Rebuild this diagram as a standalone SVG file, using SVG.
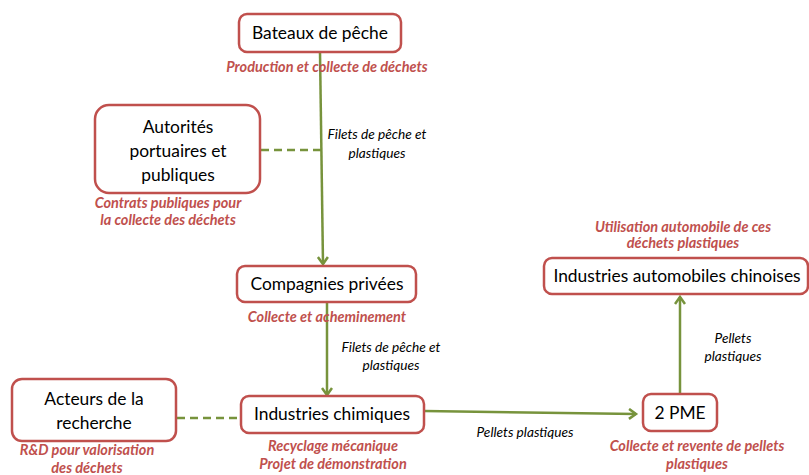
<svg xmlns="http://www.w3.org/2000/svg" width="809" height="475" viewBox="0 0 809 475">
<defs>
<marker id="arr" markerWidth="12" markerHeight="12" refX="9" refY="6" orient="auto" markerUnits="userSpaceOnUse">
<path d="M2,1 L9,6 L2,11" fill="none" stroke="#77933C" stroke-width="2.5"/>
</marker>
<style>
.box{fill:#fff;stroke:#C0504D;stroke-width:2.5}
.t{font-family:Lato,"Liberation Sans",sans-serif;font-size:17.4px;fill:#000;text-anchor:middle}
.r{font-family:Lato,"Liberation Sans",sans-serif;font-size:14.5px;font-weight:bold;font-style:italic;fill:#C0504D;text-anchor:middle}
.e{font-family:Lato,"Liberation Sans",sans-serif;font-size:13.7px;font-style:italic;fill:#000;text-anchor:middle}
.ln{fill:none;stroke:#77933C;stroke-width:2.5}
.d{fill:none;stroke:#77933C;stroke-width:2.5;stroke-dasharray:8,5}
</style>
</defs>
<rect width="809" height="475" fill="#fff"/>
<g id="connectors">
<line class="ln" x1="320" y1="52" x2="323" y2="264" marker-end="url(#arr)"/>
<line class="d" x1="261" y1="150" x2="321" y2="150"/>
<line class="ln" x1="327" y1="302" x2="327" y2="395" marker-end="url(#arr)"/>
<line class="d" x1="177" y1="418" x2="241" y2="418"/>
<line class="ln" x1="424" y1="411" x2="636" y2="414" marker-end="url(#arr)"/>
<line class="ln" x1="680" y1="394" x2="680" y2="297" marker-end="url(#arr)"/>
<text class="e" x="377" y="139">Filets de pêche et</text>
<text class="e" x="377" y="158">plastiques</text>
<text class="e" x="391" y="352">Filets de pêche et</text>
<text class="e" x="391" y="370">plastiques</text>
<text class="e" x="525" y="437">Pellets plastiques</text>
<text class="e" x="733" y="343">Pellets</text>
<text class="e" x="733" y="361">plastiques</text>
</g>
<g id="bateaux">
<rect class="box" x="239" y="14" width="162" height="38" rx="8"/>
<text class="t" x="320" y="39">Bateaux de pêche</text>
<text class="r" x="327" y="72">Production et collecte de déchets</text>
</g>
<g id="autorites">
<rect class="box" x="95" y="105" width="165" height="88" rx="14"/>
<text class="t" x="178" y="133">Autorités</text>
<text class="t" x="178" y="157">portuaires et</text>
<text class="t" x="178" y="181">publiques</text>
<text class="r" x="168" y="208">Contrats publiques pour</text>
<text class="r" x="168" y="225">la collecte des déchets</text>
</g>
<g id="compagnies">
<rect class="box" x="237" y="266" width="179" height="36" rx="8"/>
<text class="t" x="327" y="290">Compagnies privées</text>
<text class="r" x="327" y="322">Collecte et acheminement</text>
</g>
<g id="acteurs">
<rect class="box" x="12" y="379" width="164" height="62" rx="10"/>
<text class="t" x="94" y="405">Acteurs de la</text>
<text class="t" x="94" y="429">recherche</text>
<text class="r" x="87" y="455">R&amp;D pour valorisation</text>
<text class="r" x="87" y="473">des déchets</text>
</g>
<g id="chimiques">
<rect class="box" x="241" y="396" width="183" height="37" rx="8"/>
<text class="t" x="332" y="420">Industries chimiques</text>
<text class="r" x="333" y="451">Recyclage mécanique</text>
<text class="r" x="333" y="469">Projet de démonstration</text>
</g>
<g id="pme">
<rect class="box" x="643" y="394" width="74" height="37" rx="8"/>
<text class="t" x="680" y="419">2 PME</text>
<text class="r" x="697" y="451">Collecte et revente de pellets</text>
<text class="r" x="697" y="469">plastiques</text>
</g>
<g id="automobiles">
<rect class="box" x="544" y="258" width="264" height="36" rx="8"/>
<text class="t" x="677" y="282">Industries automobiles chinoises</text>
<text class="r" x="683" y="232">Utilisation automobile de ces</text>
<text class="r" x="683" y="248">déchets plastiques</text>
</g>
</svg>
